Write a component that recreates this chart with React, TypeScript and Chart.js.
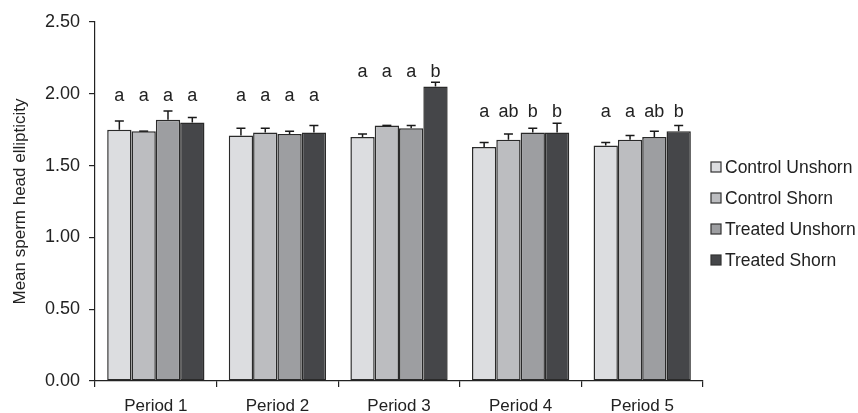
import React, { useEffect, useRef } from "react";
import { Chart, registerables } from "chart.js";

Chart.register(...registerables);

const periods = ["Period 1", "Period 2", "Period 3", "Period 4", "Period 5"];
const seriesNames = ["Control Unshorn", "Control Shorn", "Treated Unshorn", "Treated Shorn"];
const seriesColors = ["#dcdde0", "#bcbdc0", "#9d9ea1", "#454649"];

const controlUnshorn = [1.75, 1.71, 1.70, 1.63, 1.64];
const controlShorn = [1.74, 1.73, 1.78, 1.68, 1.68];
const treatedUnshorn = [1.82, 1.72, 1.76, 1.73, 1.70];
const treatedShorn = [1.80, 1.73, 2.05, 1.73, 1.74];

const errControlUnshorn = [0.06, 0.05, 0.02, 0.03, 0.02];
const errControlShorn = [0.0, 0.03, 0.0, 0.04, 0.03];
const errTreatedUnshorn = [0.06, 0.02, 0.02, 0.03, 0.04];
const errTreatedShorn = [0.035, 0.05, 0.03, 0.065, 0.04];

const lettersControlUnshorn = ["a", "a", "a", "a", "a"];
const lettersControlShorn = ["a", "a", "a", "ab", "a"];
const lettersTreatedUnshorn = ["a", "a", "a", "b", "ab"];
const lettersTreatedShorn = ["a", "a", "b", "b", "b"];
const letterLevels = [1.95, 1.95, 2.12, 1.84, 1.84];

const yTicks = [0, 0.5, 1.0, 1.5, 2.0, 2.5];

const values = [controlUnshorn, controlShorn, treatedUnshorn, treatedShorn];
const errors = [errControlUnshorn, errControlShorn, errTreatedUnshorn, errTreatedShorn];
const letters = [lettersControlUnshorn, lettersControlShorn, lettersTreatedUnshorn, lettersTreatedShorn];

const FONT = "'Liberation Sans', Arial, sans-serif";

const annotationsPlugin = {
  id: "annotations",
  afterDatasetsDraw(chart: any) {
    const ctx = chart.ctx;
    const y = chart.scales.y;
    ctx.save();
    chart.data.datasets.forEach((ds: any, i: number) => {
      const meta = chart.getDatasetMeta(i);
      meta.data.forEach((bar: any, j: number) => {
        const top = y.getPixelForValue(values[i][j]);
        const errTop = y.getPixelForValue(values[i][j] + errors[i][j]);
        ctx.strokeStyle = "#1a1a1a";
        ctx.lineWidth = 1.5;
        ctx.beginPath();
        ctx.moveTo(bar.x, top);
        ctx.lineTo(bar.x, errTop);
        ctx.moveTo(bar.x - 4.5, errTop);
        ctx.lineTo(bar.x + 4.5, errTop);
        ctx.stroke();
        ctx.fillStyle = "#222";
        ctx.font = `18px ${FONT}`;
        ctx.textAlign = "center";
        ctx.textBaseline = "alphabetic";
        ctx.fillText(letters[i][j], bar.x, y.getPixelForValue(letterLevels[j]));
      });
    });
    // legend
    const lx = 711;
    const ly0 = 167;
    ctx.font = `17.5px ${FONT}`;
    ctx.textAlign = "left";
    ctx.textBaseline = "middle";
    seriesNames.forEach((name, i) => {
      const cy = ly0 + i * 31;
      ctx.fillStyle = seriesColors[i];
      ctx.fillRect(lx, cy - 5, 10, 10);
      ctx.strokeStyle = "#333";
      ctx.lineWidth = 1.2;
      ctx.strokeRect(lx, cy - 5, 10, 10);
      ctx.fillStyle = "#222";
      ctx.fillText(name, lx + 14, cy + 1);
    });
    ctx.restore();
  },
};

export default function App() {
  const ref = useRef<HTMLCanvasElement>(null);
  useEffect(() => {
    if (!ref.current) return;
    const chart = new Chart(ref.current, {
      type: "bar",
      data: {
        labels: periods,
        datasets: values.map((v, i) => ({
          label: seriesNames[i],
          data: v,
          backgroundColor: seriesColors[i],
          borderColor: "#2a2a2a",
          borderWidth: 1.5,
          borderSkipped: false,
          categoryPercentage: 0.8,
          barPercentage: 1.0,
        })),
      },
      options: {
        animation: false,
        responsive: true,
        maintainAspectRatio: false,
        layout: { padding: { left: 10, right: 155, top: 22, bottom: -13 } },
        plugins: {
          legend: { display: false },
          tooltip: { enabled: false },
        },
        scales: {
          x: {
            grid: { drawOnChartArea: false, drawTicks: true, tickLength: 6, color: "#222", lineWidth: 1.2 },
            border: { display: true, color: "#222", width: 1.2 },
            ticks: { color: "#222", font: { family: FONT, size: 17, lineHeight: 1.0 }, padding: 11 },
          },
          y: {
            min: 0,
            max: 2.5,
            afterBuildTicks: (axis: any) => {
              axis.ticks = yTicks.map((v) => ({ value: v }));
            },
            grid: { drawOnChartArea: false, drawTicks: true, tickLength: 6, color: "#222", lineWidth: 1.2 },
            border: { display: true, color: "#222", width: 1.2 },
            ticks: {
              color: "#222",
              font: { family: FONT, size: 18 },
              padding: 9,
              callback: (v: any) => Number(v).toFixed(2),
            },
            title: {
              display: true,
              text: "Mean sperm head ellipticity",
              color: "#222",
              font: { family: FONT, size: 17 },
              padding: { top: 0, bottom: 5.6 },
            },
          },
        },
      },
      plugins: [annotationsPlugin],
    });
    return () => chart.destroy();
  }, []);
  return (
    <div style={{ position: "absolute", left: 0, top: 0, width: 858, height: 413 }}>
      <canvas ref={ref} />
    </div>
  );
}
